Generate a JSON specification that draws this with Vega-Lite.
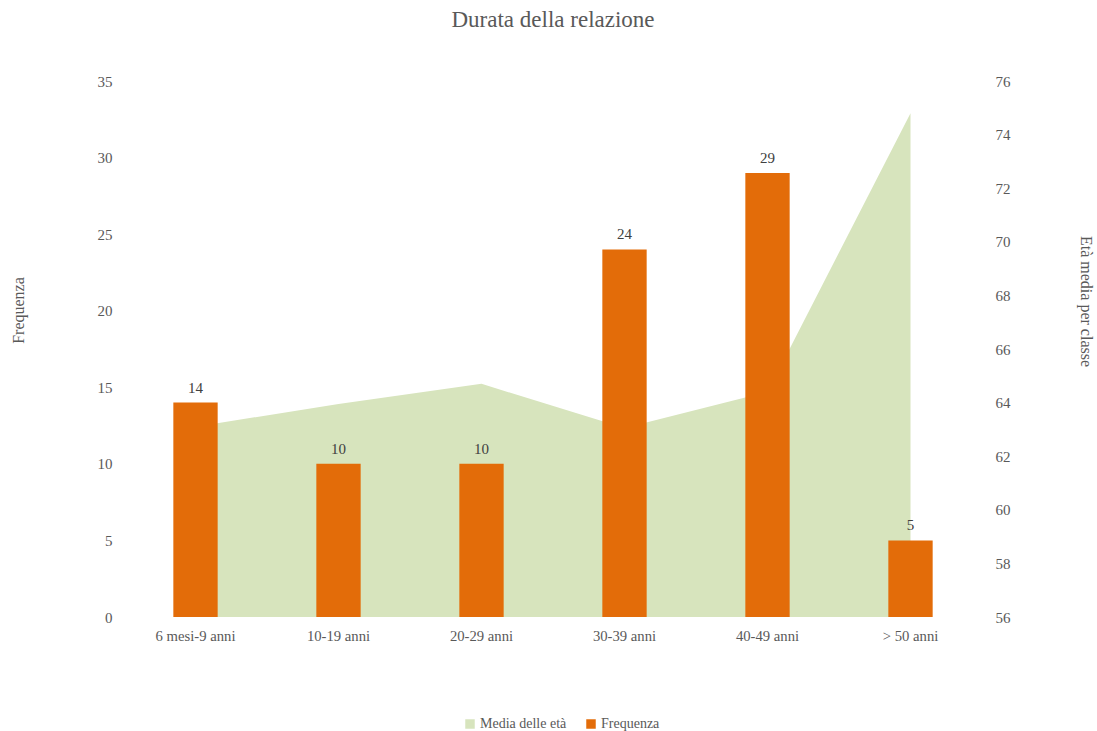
{
  "$schema": "https://vega.github.io/schema/vega-lite/v6.json",
  "autosize": {"type": "none"},
  "width": 858,
  "height": 536,
  "padding": {"left": 124, "top": 81, "right": 115, "bottom": 114},
  "background": "white",
  "config": {
    "font": "Liberation Serif",
    "view": {"stroke": null},
    "axis": {"grid": false, "ticks": false, "domain": false, "labelColor": "#595959", "labelFontSize": 15, "titleColor": "#595959", "titleFontSize": 16, "titleFontWeight": "normal", "labelFont": "Liberation Serif", "titleFont": "Liberation Serif"}
  },
  "title": {"text": "Durata della relazione", "fontSize": 23, "font": "Liberation Serif", "fontWeight": "normal", "color": "#595959", "anchor": "middle", "frame": "group", "offset": 42},
  "data": {"values": [
    {"cat": "6 mesi-9 anni", "freq": 14, "eta": 63.1},
    {"cat": "10-19 anni", "freq": 10, "eta": 63.95},
    {"cat": "20-29 anni", "freq": 10, "eta": 64.7},
    {"cat": "30-39 anni", "freq": 24, "eta": 63.05},
    {"cat": "40-49 anni", "freq": 29, "eta": 64.4},
    {"cat": "> 50 anni", "freq": 5, "eta": 74.8}
  ]},
  "encoding": {
    "x": {"field": "cat", "type": "nominal", "sort": null, "title": null,
      "scale": {"paddingInner": 0.69, "paddingOuter": 0.345},
      "axis": {"labelAngle": 0, "labelPadding": 11, "labelFontSize": 14.7}}
  },
  "layer": [
    {
      "mark": {"type": "area", "color": "#d7e4bd", "opacity": 1},
      "encoding": {
        "x": {"field": "cat", "type": "nominal", "sort": null, "bandPosition": 0.5},
        "y": {"field": "eta", "type": "quantitative",
          "scale": {"domain": [56, 76], "zero": false, "nice": false},
          "axis": {"orient": "right", "values": [56,58,60,62,64,66,68,70,72,74,76], "labelPadding": 13, "title": "Età media per classe", "titleAngle": 90, "titleX": 103, "titleY": 220, "titleAlign": "center", "titleBaseline": "middle"}},
        "y2": {"datum": 56},
        "color": {"datum": "Media delle età", "type": "nominal",
          "scale": {"domain": ["Media delle età", "Frequenza"], "range": ["#d7e4bd", "#e36c09"]},
          "legend": {"orient": "none", "direction": "horizontal", "legendX": 339, "legendY": 636, "title": null, "symbolType": "square", "symbolSize": 90, "labelOffset": 3, "labelFontSize": 14, "labelColor": "#595959", "labelFont": "Liberation Serif", "columnPadding": 17, "symbolOpacity": 1}}
      }
    },
    {
      "layer": [
        {
          "mark": {"type": "bar", "color": "#e36c09"},
          "encoding": {
            "y": {"field": "freq", "type": "quantitative",
              "scale": {"domain": [0, 35], "nice": false},
              "axis": {"orient": "left", "values": [0,5,10,15,20,25,30,35], "labelPadding": 12, "title": "Frequenza", "titleAngle": -90, "titleX": -106, "titleY": 229, "titleAlign": "center", "titleBaseline": "middle"}},
            "color": {"datum": "Frequenza", "type": "nominal"}
          }
        },
        {
          "mark": {"type": "text", "baseline": "alphabetic", "dy": -10, "fontSize": 15, "color": "#404040", "font": "Liberation Serif"},
          "encoding": {
            "y": {"field": "freq", "type": "quantitative"},
            "text": {"field": "freq", "type": "quantitative"}
          }
        }
      ]
    }
  ],
  "resolve": {"scale": {"y": "independent"}}
}
